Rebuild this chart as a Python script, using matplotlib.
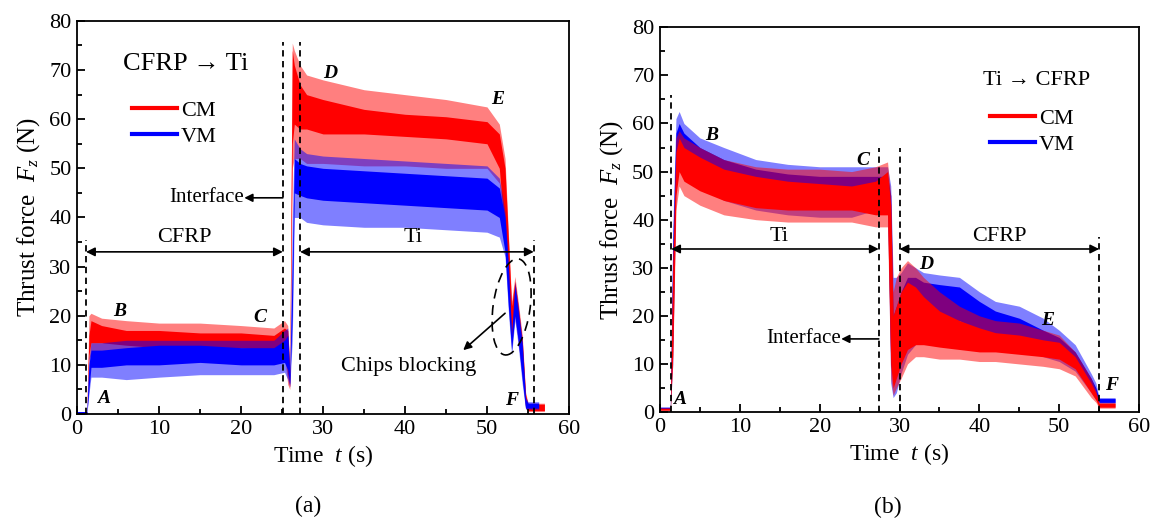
import matplotlib
matplotlib.use("Agg")
import matplotlib.pyplot as plt
import numpy as np
from matplotlib.lines import Line2D
from matplotlib.patches import Ellipse
from matplotlib import transforms

plt.rcParams['font.family'] = ['Liberation Serif', 'DejaVu Serif']
plt.rcParams['mathtext.fontset'] = 'custom'
plt.rcParams['mathtext.rm'] = 'Liberation Serif'
plt.rcParams['mathtext.it'] = 'Liberation Serif:italic'

nan = np.nan

# ---- (a) CFRP -> Ti : envelopes (N) ----
ta = [0, 1.2, 1.45, 1.7, 3, 6, 10, 15, 20, 24, 25.3, 25.7, 25.95, 26.25, 26.5, 27.2, 28,
      30, 35, 40, 45, 50, 51.5, 52.2, 52.6, 53.0, 53.4, 53.8, 54.3, 54.7, 55.0, 56.3, 57.0]
cm_a_hi = [0.3, 0.3, 16, 19, 18, 17, 17, 16.5, 16.5, 16, 17.5, 17, 9, 74, 71, 67, 65,
           64, 62, 61, 60.5, 59.5, 57, 50, 36, 22, 27, 22, 15, 4, 2.0, 2.0, 2.0]
cm_a_lo = [0, 0, 12, 14.5, 14.5, 14, 13.5, 13.5, 13.5, 13, 14, 8, 5.5, 55, 59, 58, 58,
           57, 57, 56.5, 56, 55, 50, 36, 26, 15, 21, 16, 9, 1.5, 0.7, 0.7, 0.7]
cm_a_peak = [0.3, 0.3, 20, 20.5, 19.5, 19, 18.5, 18.5, 18, 17.5, 19, 18, 9.5, 75.5, 74, 71, 69,
             68, 66, 65, 64, 62.5, 59, 52, 37, 23, 28, 23, 16, 4.5, 2.2, 2.2, 2.2]
cm_a_dip = [0, 0, 11, 12, 12, 11.5, 11.5, 11.5, 11.5, 11.5, 12, 6, 5, 50, 52, 52, 51,
            51, 50.5, 50.5, 50, 50, 47, 34, 25, 14, 20, 15, 8, 1.2, 0.5, 0.5, 0.5]
vm_a_hi = [0.5, 0.5, 10, 13, 13, 13.5, 14, 14, 13.5, 13.5, 15, 16, 8, 30, 52, 51, 50.5,
           50, 49.5, 49, 48.5, 48, 46, 40, 30, 16, 26, 21, 14, 3, 2.2, 2.2, nan]
vm_a_lo = [0, 0, 5, 9.5, 9.5, 10, 10, 10.5, 10, 10, 10.5, 9, 6, 20, 45, 44.5, 44,
           43.5, 43, 42.5, 42, 41.5, 40, 33, 22, 13, 20, 15, 7, 1.2, 1.2, 1.2, nan]
vm_a_peak = [0.5, 0.5, 11, 14.5, 14.5, 15, 15, 15, 15, 15, 17, 17.5, 9, 40, 56, 54, 53,
             52.5, 52, 51.5, 51, 50.5, 48, 41, 31, 17, 27, 22, 15, 3.5, 2.5, 2.5, nan]
vm_a_dip = [0, 0, 4, 7.5, 7.5, 7, 7.5, 8, 8, 8, 8.5, 7, 5.5, 15, 40, 40, 39,
            38.5, 38, 38, 37.5, 37, 36, 32, 21, 12, 19, 14, 6, 1.0, 1.0, 1.0, nan]

# ---- (b) Ti -> CFRP ----
tb = [0, 1.3, 1.6, 2.0, 2.4, 3, 5, 8, 12, 16, 20, 24, 27, 28.5, 28.9, 29.2, 29.6,
      30.2, 31, 32, 33, 35, 37.5, 40, 42, 45, 48, 50, 52, 54, 54.6, 55.0, 57]
vm_b_hi = [1, 1, 35, 58, 60, 58, 55, 52.5, 50.5, 49.5, 49, 49, 49, 49, 45, 20, 22,
           25, 28, 28, 27, 26.5, 26, 23, 21, 19.5, 17, 15.5, 12.5, 7, 5, 2.8, 2.8]
vm_b_lo = [0.6, 0.6, 15, 50, 54, 52, 49.5, 47, 45.5, 44.5, 44.5, 44.5, 45, 45, 10, 7, 8,
           12, 17, 18, 19, 19.5, 19, 17, 16, 15.5, 13.5, 12.5, 10, 5, 3, 2, 2]
vm_b_peak = [1, 1, 38, 61, 62.5, 60, 57, 55, 52.5, 51.5, 51, 51, 51, 51, 47, 28, 28,
             29, 31, 30, 29, 28.5, 28, 25, 23, 22, 19.5, 17, 14, 8, 6, 3.0, 3.0]
vm_b_dip = [0.5, 0.5, 10, 47, 51, 50, 47, 44, 42, 41, 40.5, 40.5, 42, 42, 6, 3, 4,
            8, 12, 14, 15, 16.5, 16.5, 14.5, 13.5, 13, 11.5, 10.5, 8.5, 4, 2.5, 1.8, 1.8]
cm_b_hi = [0.8, 0.8, 30, 54, 57, 55, 53, 50.5, 49, 48, 47.5, 47, 48, 50, 43, 20, 22,
           25, 27, 26, 24, 21, 19, 17.5, 16.5, 16, 15, 14.5, 11.5, 6, 4, 1.8, 1.8]
cm_b_lo = [0.4, 0.4, 12, 45, 50, 48, 46, 44, 42.5, 42, 42, 42, 41, 41, 10, 5, 7,
           10, 13, 14, 14, 13.5, 13, 12.5, 12.5, 12, 11.5, 11, 9, 4, 2.5, 1, 1]
cm_b_peak = [0.8, 0.8, 32, 57, 58.5, 57, 55, 52.5, 51, 50.5, 50.5, 50, 51, 52, 45, 25, 28,
             30, 31.5, 30, 28, 25, 22, 20, 19, 18.5, 17, 16, 12.5, 7, 4.5, 2, 2]
cm_b_dip = [0.3, 0.3, 10, 42, 47, 45, 43, 41, 40, 39.5, 39.5, 39.5, 38.5, 38.5, 7, 3.5, 5,
            7, 10, 11.5, 11.5, 11, 11, 10.5, 10.5, 10, 9.5, 9, 7.5, 3, 2, 0.8, 0.8]

RED = '#ff0000'
BLUE = '#0000ff'


def band(ax, t, hi, lo, peak, dip, color):
    ax.fill_between(t, dip, peak, color=color, alpha=0.5, lw=0)
    ax.fill_between(t, lo, hi, color=color, lw=0)


def style(ax):
    ax.set_xlim(0, 60)
    ax.set_ylim(0, 80)
    ax.set_xticks(range(0, 61, 10))
    ax.set_yticks(range(0, 81, 10))
    ax.set_xticks(range(5, 60, 10), minor=True)
    ax.set_yticks(range(5, 80, 10), minor=True)
    ax.tick_params(which='both', direction='in', top=False, right=False, width=1.3, labelsize=16)
    ax.tick_params(which='major', length=6, pad=4)
    ax.tick_params(which='minor', length=3.5)
    for s in ax.spines.values():
        s.set_linewidth(1.3)
    ax.set_xlabel(r'Time  $t$ (s)', fontsize=17, labelpad=3)
    ax.set_ylabel(r'Thrust force  $F_z$ (N)', fontsize=18, labelpad=5)


def darrow(ax, x0, x1, y):
    ax.annotate('', xy=(x1, y), xytext=(x0, y),
                arrowprops=dict(arrowstyle='<|-|>', color='k', lw=1.2,
                                shrinkA=0, shrinkB=0, mutation_scale=13))


def larrow(ax, x0, y0, x1, y1):
    ax.annotate('', xy=(x1, y1), xytext=(x0, y0),
                arrowprops=dict(arrowstyle='-|>', color='k', lw=1.2,
                                shrinkA=0, shrinkB=0, mutation_scale=12))


def letter(ax, x, y, s):
    ax.text(x, y, s, fontsize=14, fontweight='bold', style='italic', ha='center', va='center')


fig = plt.figure(figsize=(11.53, 5.22), dpi=100)
ax1 = fig.add_axes([0.0668, 0.2069, 0.4267, 0.753])
ax2 = fig.add_axes([0.5724, 0.2107, 0.4155, 0.737])

# (a)
band(ax1, ta, cm_a_hi, cm_a_lo, cm_a_peak, cm_a_dip, RED)
band(ax1, ta, vm_a_hi, vm_a_lo, vm_a_peak, vm_a_dip, BLUE)
style(ax1)
dash = (0, (3.5, 2.5))
ax1.vlines([1.1, 55.7], 0, 35.5, colors='k', linestyles=[dash], lw=1.3)
ax1.vlines([25.1, 27.2], 0, 75.8, colors='k', linestyles=[dash], lw=1.3)
darrow(ax1, 1.1, 25.1, 33)
darrow(ax1, 27.2, 55.7, 33)
ax1.text(13.1, 36, 'CFRP', fontsize=16, ha='center', va='center')
ax1.text(41, 36, 'Ti', fontsize=16, ha='center', va='center')
larrow(ax1, 25.1, 44, 20.4, 44)
ax1.text(20.4, 44, 'Interface', fontsize=15, ha='right', va='center')
ax1.text(5.6, 71.2, 'CFRP \u2192 Ti', fontsize=19, ha='left', va='center')
ell = Ellipse((0, 0), width=0.37, height=0.97, angle=-8, fill=False, ls=(0, (6, 4)), lw=1.2,
              transform=fig.dpi_scale_trans + transforms.ScaledTranslation(53.0, 21.8, ax1.transData))
ax1.add_patch(ell)
larrow(ax1, 52.2, 20.5, 47.1, 13)
ax1.text(40.4, 9.6, 'Chips blocking', fontsize=16, ha='center', va='center')
letter(ax1, 3.2, 3.2, 'A')
letter(ax1, 5.2, 20.8, 'B')
letter(ax1, 22.3, 19.6, 'C')
letter(ax1, 30.9, 69.4, 'D')
letter(ax1, 51.3, 64, 'E')
letter(ax1, 53.0, 2.8, 'F')
h = [Line2D([], [], color=RED, lw=3), Line2D([], [], color=BLUE, lw=3)]
ax1.legend(h, ['CM', 'VM'], loc='center left', bbox_to_anchor=(0.112, 0.739), frameon=False,
           fontsize=16, handlelength=2.0, handletextpad=0.2, labelspacing=0.25,
           borderpad=0, borderaxespad=0)

# (b)
band(ax2, tb, vm_b_hi, vm_b_lo, vm_b_peak, vm_b_dip, BLUE)
band(ax2, tb, cm_b_hi, cm_b_lo, cm_b_peak, cm_b_dip, RED)
style(ax2)
ax2.vlines([1.4], 0, 66, colors='k', linestyles=[dash], lw=1.3)
ax2.vlines([27.4, 30.0], 0, 55, colors='k', linestyles=[dash], lw=1.3)
ax2.vlines([55.0], 0, 36.4, colors='k', linestyles=[dash], lw=1.3)
darrow(ax2, 1.4, 27.4, 33.9)
darrow(ax2, 30.0, 55.0, 33.9)
ax2.text(14.9, 36.5, 'Ti', fontsize=16, ha='center', va='center')
ax2.text(42.5, 36.5, 'CFRP', fontsize=16, ha='center', va='center')
larrow(ax2, 27.4, 15.2, 22.7, 15.2)
ax2.text(22.7, 15.2, 'Interface', fontsize=15, ha='right', va='center')
ax2.text(40.4, 69, 'Ti \u2192 CFRP', fontsize=16, ha='left', va='center')
letter(ax2, 2.5, 2.7, 'A')
letter(ax2, 6.5, 57.6, 'B')
letter(ax2, 25.4, 52.2, 'C')
letter(ax2, 33.3, 30.6, 'D')
letter(ax2, 48.5, 19.1, 'E')
letter(ax2, 56.5, 5.6, 'F')
ax2.legend(h, ['CM', 'VM'], loc='center left', bbox_to_anchor=(0.689, 0.729), frameon=False,
           fontsize=16, handlelength=2.0, handletextpad=0.2, labelspacing=0.25,
           borderpad=0, borderaxespad=0)

fig.text(308 / 1153, 1 - 506 / 522, '(a)', fontsize=17, ha='center', va='center')
fig.text(888 / 1153, 1 - 507 / 522, '(b)', fontsize=17, ha='center', va='center')

fig.savefig('out.png', dpi=100)
